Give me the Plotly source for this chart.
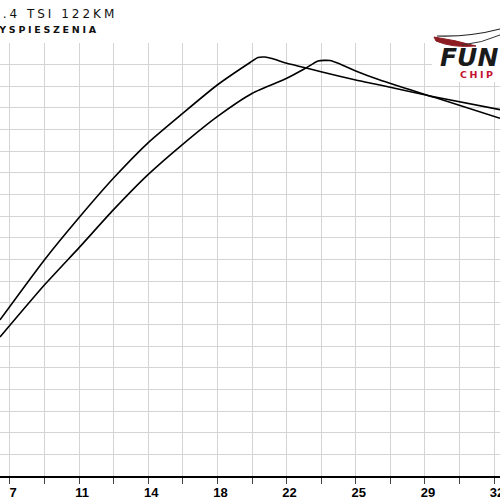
import plotly.graph_objects as go

# ---- data ----
X_GRID = [7.2, 9.0, 10.8, 12.6, 14.4, 16.2, 18.0, 19.8, 21.6, 23.4, 25.2, 27.0, 28.8, 30.6, 32.4]
X_LABELS = ["7", "", "11", "", "14", "", "18", "", "22", "", "25", "", "29", "", "32"]

curve_a_x = [6.68, 8.99, 10.81, 12.58, 14.40, 16.19, 17.99, 19.70, 20.11, 20.48, 20.84,
             21.61, 22.56, 23.39, 25.20, 26.46, 29.33, 32.71]
curve_a_y = [72.1, 99.8, 119.5, 137.5, 154.0, 167.5, 180.6, 191.0, 193.3, 193.5, 192.8,
             190.6, 188.6, 186.7, 182.9, 180.6, 175.1, 169.2]

curve_b_x = [6.68, 8.99, 10.81, 12.58, 14.40, 16.19, 17.99, 19.82, 21.61, 22.56,
             23.24, 23.86, 24.38, 25.20, 26.46, 29.33, 32.71]
curve_b_y = [64.2, 88.2, 105.6, 122.9, 139.3, 153.2, 166.0, 176.8, 183.7, 188.2,
             191.7, 191.9, 190.3, 187.1, 182.9, 174.8, 165.2]

TITLE_1 = "1.4 TSI 122KM"
TITLE_2 = "PRZYSPIESZENIA"
LOGO_1 = "FUN"
LOGO_2 = "CHIP"

W, H = 500, 500
MT, MB = 43, 24
PH = H - MT - MB


def py(p):  # pixel row -> paper y
    return (H - MB - p) / PH


def px(p):  # pixel column -> paper x
    return p / W


fig = go.Figure()
for xs, ys in [(curve_a_x, curve_a_y), (curve_b_x, curve_b_y)]:
    fig.add_trace(go.Scatter(x=xs, y=ys, mode="lines",
                             line=dict(color="black", width=1.6, shape="spline", smoothing=0.6),
                             hoverinfo="skip", showlegend=False))

fig.update_layout(
    width=W, height=H,
    margin=dict(l=0, r=0, t=MT, b=MB, pad=0, autoexpand=False),
    paper_bgcolor="white", plot_bgcolor="white",
    showlegend=False,
)
fig.update_xaxes(
    range=[6.68, 32.71], tickmode="array", tickvals=X_GRID, ticktext=X_LABELS,
    showgrid=True, gridcolor="#d4d4d4", gridwidth=1,
    showline=True, linecolor="black", linewidth=2,
    ticks="outside", ticklen=6, tickwidth=1, tickcolor="#444",
    ticklabelshift=3, ticklabelstandoff=-3, ticklabeloverflow="allow", automargin=False,
    tickfont=dict(family="Liberation Sans", size=13, color="black", weight="bold"),
    zeroline=False,
)
fig.update_yaxes(
    range=[0, 200], dtick=10, tick0=0,
    showgrid=True, gridcolor="#d4d4d4", gridwidth=1,
    showticklabels=False, zeroline=False, showline=False, ticks="", automargin=False,
)

# white box behind logo
fig.add_shape(type="rect", xref="paper", yref="paper",
              x0=px(432), x1=px(501), y0=py(82), y1=py(42),
              fillcolor="white", line=dict(width=0), layer="above")
# logo swoosh (red)
fig.add_shape(type="path", xref="paper", yref="paper",
              path=(f"M {px(434)},{py(37)} "
                    f"Q {px(455)},{py(40)} {px(476)},{py(46)} "
                    f"Q {px(452)},{py(48)} {px(436)},{py(41)} Z"),
              fillcolor="#8c1c22", line=dict(color="#8c1c22", width=1), layer="above")
# logo swoosh (dark strokes)
fig.add_shape(type="path", xref="paper", yref="paper",
              path=(f"M {px(437)},{py(36)} Q {px(470)},{py(37)} {px(500)},{py(29)}"),
              line=dict(color="#222", width=1.2), layer="above")
fig.add_shape(type="path", xref="paper", yref="paper",
              path=(f"M {px(462)},{py(45)} Q {px(482)},{py(43)} {px(500)},{py(35)}"),
              line=dict(color="#333", width=1), layer="above")

annotations = [
    dict(text=f'<span style="letter-spacing:3px">{TITLE_1}</span>', x=px(118), y=py(14),
         xanchor="right", yanchor="middle",
         font=dict(family="DejaVu Sans", size=12, color="#111")),
    dict(text=f'<span style="letter-spacing:2.7px">{TITLE_2}</span>', x=px(100), y=py(29),
         xanchor="right", yanchor="middle",
         font=dict(family="DejaVu Sans", size=9.5, color="#111", weight="bold")),
    dict(text=f"<b><i>{LOGO_1}</i></b>", x=px(439), y=py(58),
         xanchor="left", yanchor="middle",
         font=dict(family="DejaVu Sans", size=25, color="#1a1a1a", weight="bold")),
    dict(text=f'<span style="letter-spacing:2.5px"><b>{LOGO_2}</b></span>', x=px(459), y=py(75),
         xanchor="left", yanchor="middle",
         font=dict(family="DejaVu Sans", size=9.5, color="#c4122f", weight="bold")),
]
for a in annotations:
    fig.add_annotation(xref="paper", yref="paper", showarrow=False, borderpad=0, **a)

fig.write_html("out.html", config={"displayModeBar": False},
               post_script="document.body.style.margin='0';document.body.style.overflow='hidden';")
